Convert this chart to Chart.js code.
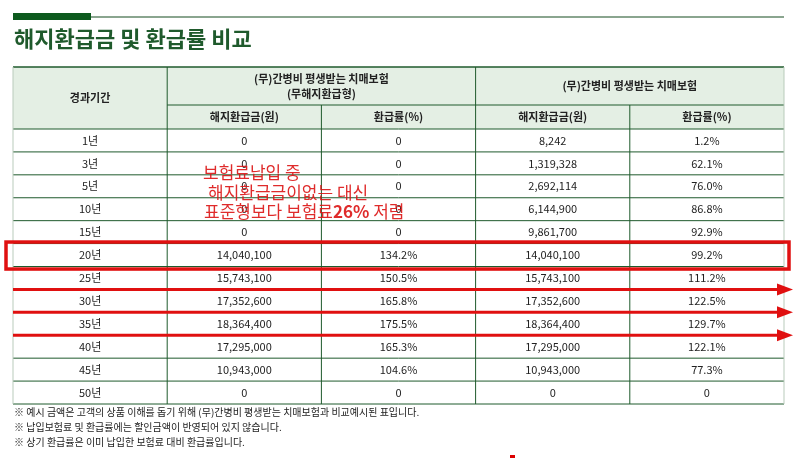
<!DOCTYPE html>
<html><head><meta charset="utf-8">
<script src="https://cdn.jsdelivr.net/npm/chart.js@4"></script>
<style>html,body{margin:0;background:#fff}#w{width:800px;height:471px}</style>
</head><body><div id="w"><canvas id="c"></canvas></div>
<script>
const periods=['1년','3년','5년','10년','15년','20년','25년','30년','35년','40년','45년','50년'];
const noRefundAmount=['0','0','0','0','0','14,040,100','15,743,100','17,352,600','18,364,400','17,295,000','10,943,000','0'];
const noRefundRate=['0','0','0','0','0','134.2%','150.5%','165.8%','175.5%','165.3%','104.6%','0'];
const stdAmount=['8,242','1,319,328','2,692,114','6,144,900','9,861,700','14,040,100','15,743,100','17,352,600','18,364,400','17,295,000','10,943,000','0'];
const stdRate=['1.2%','62.1%','76.0%','86.8%','92.9%','99.2%','111.2%','122.5%','129.7%','122.1%','77.3%','0'];
const title='해지환급금 및 환급률 비교';
const groupHeads=['경과기간','(무)간병비 평생받는 치매보험\n(무해지환급형)','(무)간병비 평생받는 치매보험'];
const subHeads=['해지환급금(원)','환급률(%)','해지환급금(원)','환급률(%)'];
const notes=['※ 예시 금액은 고객의 상품 이해를 돕기 위해 (무)간병비 평생받는 치매보험과 비교예시된 표입니다.','※ 납입보험료 및 환급률에는 할인금액이 반영되어 있지 않습니다.','※ 상기 환급률은 이미 납입한 보험료 대비 환급률입니다.'];
const memo=['보험료납입 중','해지환급금이없는 대신','표준형보다 보험료','26%',' 저렴'];
const boxRows=['20년'];
const arrowRows=['25년','30년','35년'];
const F='"Noto Sans CJK KR","Noto Sans",sans-serif';
const G='#1f5a2c';
const tablePlugin={id:'tbl',afterDraw(ch){
 const c=ch.ctx,x=ch.scales.x,y=ch.scales.y;
 const X=i=>x.getPixelForValue(i);
 const rowH=y.getPixelForValue(1)-y.getPixelForValue(0);
 const top=y.getPixelForValue(0)-rowH/2, bot=y.getPixelForValue(periods.length-1)+rowH/2;
 const hTop=67,hMid=105;
 c.save();
 c.fillStyle='#8aa58f';c.fillRect(13,16,771,2);
 c.fillStyle='#0d5a1e';c.fillRect(13,13,78,7);
 c.fillStyle=G;c.font='bold 22px '+F;c.textBaseline='middle';c.textAlign='left';
 c.fillText(title,14,39);
 c.fillStyle='#e4efe4';c.fillRect(X(0),hTop,X(5)-X(0),top-hTop);
 c.strokeStyle=G;c.lineWidth=1;
 const ln=(a,b,cc,d)=>{c.beginPath();c.moveTo(a,b);c.lineTo(cc,d);c.stroke();};
 c.lineWidth=1.5;ln(X(0),hTop,X(5),hTop);
 c.lineWidth=1;
 ln(X(1),hMid,X(5),hMid);
 for(let i=0;i<periods.length;i++){const yy=y.getPixelForValue(i)-rowH/2;ln(X(0),yy,X(5),yy);}
 ln(X(0),bot,X(5),bot);
 ln(X(1),hTop,X(1),bot);ln(X(3),hTop,X(3),bot);ln(X(2),hMid,X(2),bot);ln(X(4),hMid,X(4),bot);
 c.strokeStyle='#b9cbbb';ln(X(0),hTop,X(0),bot);ln(X(5),hTop,X(5),bot);
 c.fillStyle='#222';c.textAlign='center';c.font='bold 11px '+F;
 c.fillText(groupHeads[0],(X(0)+X(1))/2,(hTop+top)/2);
 const g1=groupHeads[1].split('\n');
 c.fillText(g1[0],X(2),hTop+12);c.fillText(g1[1],X(2),hTop+27);
 c.fillText(groupHeads[2],X(4),(hTop+hMid)/2);
 subHeads.forEach((s,i)=>c.fillText(s,(X(i+1)+X(i+2))/2,(hMid+top)/2));
 c.font='11px '+F;c.fillStyle='#222';
 const cols=[periods,noRefundAmount,noRefundRate,stdAmount,stdRate];
 periods.forEach((p,r)=>{const yy=y.getPixelForValue(r);cols.forEach((col,k)=>c.fillText(col[r],(X(k)+X(k+1))/2,yy));});
 c.textAlign='left';c.font='10px '+F;
 notes.forEach((n,i)=>c.fillText(n,14,bot+8+i*15));
 c.strokeStyle='#e01010';c.fillStyle='#e01010';
 boxRows.forEach(b=>{const yy=y.getPixelForValue(periods.indexOf(b));c.lineWidth=3.5;c.strokeRect(6,yy-13,783,27);});
 arrowRows.forEach(a=>{const yy=y.getPixelForValue(periods.indexOf(a))+rowH/2;c.lineWidth=3;ln(13,yy,780,yy);
  c.beginPath();c.moveTo(793,yy);c.lineTo(777,yy-6);c.lineTo(777,yy+6);c.closePath();c.fill();});
 c.fillStyle='rgba(220,20,20,0.9)';
 c.font='17px '+F;
 c.fillText(memo[0],203,173);c.fillText(memo[1],208,193);
 let xx=204;c.fillText(memo[2],xx,212);xx+=c.measureText(memo[2]).width;
 c.font='bold 17px '+F;c.fillText(memo[3],xx,212);xx+=c.measureText(memo[3]).width;
 c.font='17px '+F;c.fillText(memo[4],xx,212);
 c.fillStyle='#d00';c.fillRect(510,455,5,3);
 c.restore();
}};
new Chart(document.getElementById('c'),{type:'bar',
 data:{labels:periods,datasets:[{data:[],}]},
 options:{responsive:true,maintainAspectRatio:false,animation:false,indexAxis:'y',
  layout:{padding:{left:13,right:16,top:129,bottom:67}},
  plugins:{legend:{display:false},tooltip:{enabled:false}},
  scales:{x:{type:'linear',min:0,max:5,display:false},y:{type:'category',offset:true,display:false}}},
 plugins:[tablePlugin]});
</script></body></html>
